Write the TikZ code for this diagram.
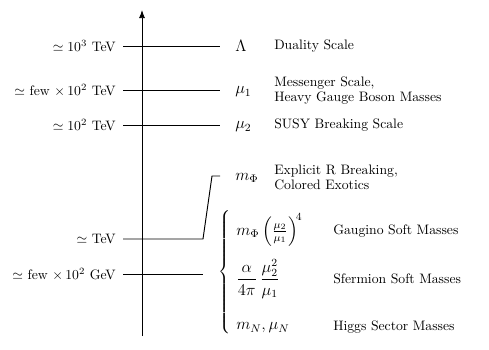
\documentclass[tikz,border=0pt]{standalone}
\usepackage{amsmath}
\usetikzlibrary{arrows.meta}
\begin{document}
\begin{tikzpicture}[x=0.73pt,y=-0.73pt,
  lvl/.style={line width=0.7pt},
  lab/.style={anchor=east,inner sep=0pt},
  sym/.style={anchor=west,inner sep=0pt,font=\large},
  txt/.style={anchor=west,inner sep=0pt},
  desc/.style={anchor=west,inner sep=0pt,align=left}]
\useasboundingbox (0,0) rectangle (489,350);
% axis
\coordinate (ax0) at (142,336);
\coordinate (ax1) at (142,10);
\draw[line width=0.7pt,-{Latex[length=6pt,width=4.5pt]}] (ax0) -- (ax1);
% levels
\coordinate (a1) at (123,46);  \coordinate (b1) at (220,46);
\coordinate (a2) at (123,90);  \coordinate (b2) at (220,90);
\coordinate (a3) at (123,125); \coordinate (b3) at (220,125);
\coordinate (a4) at (123,239); \coordinate (k4) at (203,239); \coordinate (k5) at (212,176); \coordinate (b4) at (220,176);
\coordinate (a5) at (123,274); \coordinate (b5) at (203,274);
\draw[lvl] (a1) -- (b1);
\draw[lvl] (a2) -- (b2);
\draw[lvl] (a3) -- (b3);
\draw[lvl] (a4) -- (k4) -- (k5) -- (b4);
\draw[lvl] (a5) -- (b5);
% left labels
\node[lab] (L1) at (116,46) {$\simeq 10^3$ TeV};
\node[lab] (L2) at (116,90) {$\simeq$ few $\times\, 10^2$ TeV};
\node[lab] (L3) at (116,125) {$\simeq 10^2$ TeV};
\node[lab] (L4) at (116,239) {$\simeq$ TeV};
\node[lab] (L5) at (116,274) {$\simeq$ few $\times\, 10^2$ GeV};
% symbols
\node[sym] (S1) at (235,46) {$\Lambda$};
\node[sym] (S2) at (235,92) {$\mu_1$};
\node[sym] (S3) at (235,127) {$\mu_2$};
\node[sym] (S4) at (235,178) {$m_\Phi$};
\node[txt] (D1) at (274,46) {Duality Scale};
\node[desc] (D2) at (274,91) {Messenger Scale,\\[-1pt] Heavy Gauge Boson Masses};
\node[txt] (D3) at (274,125) {SUSY Breaking Scale};
\node[desc] (D4) at (274,177) {Explicit R Breaking,\\[-1pt] Colored Exotics};
% brace
\node[anchor=west,inner sep=0pt] (BR) at (218,273) {$\left\{\rule[-44pt]{0pt}{88pt}\right.$};
\node[sym] (F1) at (236,230) {$m_\Phi\left(\frac{\mu_2}{\mu_1}\right)^{\!4}$};
\node[sym] (F2) at (236,279) {$\dfrac{\alpha}{4\pi}\,\dfrac{\mu_2^2}{\mu_1}$};
\node[sym] (F3) at (236,328) {$m_N, \mu_N$};
\node[txt] (E1) at (333,231) {Gaugino Soft Masses};
\node[txt] (E2) at (333,279) {Sfermion Soft Masses};
\node[txt] (E3) at (333,327) {Higgs Sector Masses};
\end{tikzpicture}
\end{document}
